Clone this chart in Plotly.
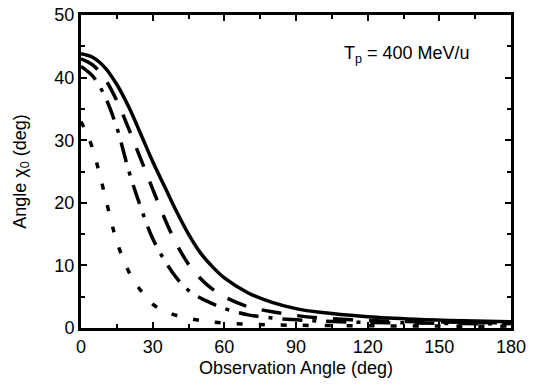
import plotly.graph_objects as go

x_solid = [0, 5, 10, 15, 20, 25, 30, 35, 40, 45, 50, 55, 60, 70, 80, 90, 100, 120, 140, 160, 180]
y_solid = [43.8, 43.2, 41.6, 38.9, 35.3, 31.0, 26.6, 22.6, 18.6, 15.0, 12.0, 9.8, 8.0, 5.6, 4.1, 3.1, 2.5, 1.8, 1.4, 1.15, 1.0]

x_dash = [0, 5, 10, 15, 20, 25, 30, 35, 40, 45, 50, 55, 60, 70, 80, 90, 100, 120, 140, 160, 180]
y_dash = [43.0, 42.0, 39.8, 36.3, 31.8, 27.0, 22.2, 17.5, 13.4, 10.2, 7.9, 6.2, 5.0, 3.4, 2.6, 2.0, 1.6, 1.2, 1.0, 0.9, 0.8]

x_dashdot = [0, 5, 10, 15, 20, 25, 30, 35, 40, 45, 50, 55, 60, 70, 80, 90, 100, 120, 140, 160, 180]
y_dashdot = [41.8, 40.2, 37.0, 32.0, 25.1, 19.3, 14.3, 10.8, 8.0, 6.0, 4.8, 3.9, 3.1, 2.1, 1.6, 1.3, 1.1, 0.9, 0.8, 0.7, 0.7]

x_dot = [0, 2.5, 5, 7.5, 10, 12.5, 15, 20, 25, 30, 35, 40, 50, 60, 80, 100, 120, 150, 180]
y_dot = [33.0, 31.0, 28.5, 25.0, 21.2, 17.3, 13.8, 9.0, 6.0, 3.8, 2.7, 2.0, 1.2, 0.8, 0.5, 0.4, 0.35, 0.3, 0.3]

FONT = "Liberation Sans, Arial, sans-serif"

fig = go.Figure()
series = [
    (x_solid, y_solid, "solid"),
    (x_dash, y_dash, "20px,16px"),
    (x_dashdot, y_dashdot, "20px,10px,4px,10px"),
    (x_dot, y_dot, "6px,16px"),
]
for xs, ys, dash in series:
    fig.add_trace(go.Scatter(x=xs, y=ys, mode="lines",
                             line=dict(color="black", width=3.5, dash=dash, shape="spline"),
                             showlegend=False))

axis_common = dict(
    showline=True, linecolor="black", linewidth=3, mirror="allticks",
    ticks="inside", ticklen=6, tickwidth=2, tickcolor="black",
    showgrid=False, zeroline=False, automargin=False,
    tickfont=dict(family=FONT, size=18, color="black"),
    minor=dict(ticks="inside", ticklen=4, tickwidth=2, tickcolor="black", showgrid=False),
)

fig.update_xaxes(range=[0, 180], dtick=30, tick0=0, **axis_common,
                 title=dict(text="Observation Angle (deg)", font=dict(family=FONT, size=18, color="black"), standoff=6))
fig.update_xaxes(minor_dtick=15)
fig.update_yaxes(range=[0, 50], dtick=10, tick0=0, **axis_common,
                 title=dict(text="Angle χ<sub>0</sub> (deg)", font=dict(family=FONT, size=18, color="black"), standoff=24))
fig.update_yaxes(minor_dtick=5)

fig.add_annotation(x=0.91, y=0.873, xref="paper", yref="paper", xanchor="right", yanchor="middle",
                   text="T<sub>p</sub> = 400 MeV/u", showarrow=False,
                   font=dict(family=FONT, size=18, color="black"))

fig.update_layout(width=540, height=388, margin=dict(l=81, r=29, t=15, b=60),
                  plot_bgcolor="white", paper_bgcolor="white")

fig.write_html("out.html", config={"displayModeBar": False},
               post_script="document.body.style.margin='0';")
